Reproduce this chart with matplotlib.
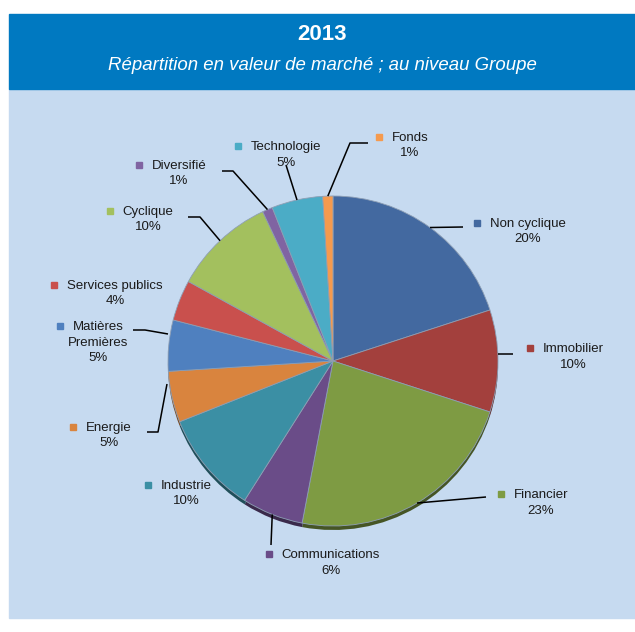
import matplotlib
matplotlib.use("Agg")
import matplotlib.pyplot as plt
import matplotlib.colors as mcolors
from matplotlib.patches import Rectangle
import numpy as np

plt.rcParams["font.family"] = ["Liberation Sans", "DejaVu Sans"]

# ---------------------------------------------------------------------------
# Data
# ---------------------------------------------------------------------------
title = "2013"
subtitle = "Répartition en valeur de marché ; au niveau Groupe"

sectors = ["Non cyclique", "Immobilier", "Financier", "Communications",
           "Industrie", "Energie", "Matières\nPremières", "Services publics",
           "Cyclique", "Diversifié", "Technologie", "Fonds"]
shares = [20, 10, 23, 6, 10, 5, 5, 4, 10, 1, 5, 1]

colors = ["#4369A0", "#A3403D", "#7E9B43", "#6A4C88", "#3B8FA4", "#D9843E",
          "#4F80BF", "#C9504D", "#A3C05E", "#8064A2", "#4BACC6", "#F59A4E"]

# ---------------------------------------------------------------------------
# Layout (image pixel coords, y from top)
# ---------------------------------------------------------------------------
W, H = 635, 632
CX, CY, R = 333, 361, 165

# centre of first label line
label_pos = [(528, 224), (573, 349), (541, 495), (331, 555), (186, 486),
             (109, 428), (98, 327), (115, 286), (148, 212), (179, 166),
             (286, 147), (410, 138)]
# leader start on the rim when it is not the slice mid-angle
anchors = [None, (498, 354), None, None, None, (167, 384), (168, 334),
           None, None, None, None, None]
# leader elbows after the anchor (None = no leader)
leaders = [[(463, 227)], [(513, 354)], [(486, 497)], [(271, 545)], None,
           [(158, 432), (147, 432)], [(145, 330), (133, 330)], None,
           [(200, 217), (188, 217)], [(233, 171), (222, 171)],
           [(286, 165)], [(350, 143), (368, 143)]]


def up(y):
    return H - y


fig = plt.figure(figsize=(W / 100, H / 100), dpi=100)
fig.patch.set_facecolor("white")
ax = fig.add_axes([0, 0, 1, 1])

# shadow rim (3-D look)
dark = [tuple(c * 0.55 for c in mcolors.to_rgb(col)) for col in colors]
ax.pie(shares, colors=dark, startangle=90, counterclock=False,
       center=(CX, up(CY) - 4), radius=R, frame=True,
       wedgeprops=dict(linewidth=0))
wedges, _ = ax.pie(shares, colors=colors, startangle=90, counterclock=False,
                   center=(CX, up(CY)), radius=R, frame=True,
                   wedgeprops=dict(edgecolor="#8E9FB5", linewidth=0.6))
ax.set_xlim(0, W)
ax.set_ylim(0, H)
ax.set_aspect("auto")
ax.axis("off")

# panels
ax.add_patch(Rectangle((9, up(618)), W - 9, 618 - 89, color="#C6DAF0", zorder=-2))
ax.add_patch(Rectangle((9, up(89)), W - 9, 89 - 14, color="#0079C1", zorder=-2))
ax.text(322, up(34), title, color="white", fontsize=16, fontweight="bold",
        ha="center", va="center")
ax.text(322, up(65), subtitle, color="white", fontsize=13.4, style="italic",
        ha="center", va="center")

fig.canvas.draw()
renderer = fig.canvas.get_renderer()

total = float(sum(shares))
cum = 0.0
for i, (name, val) in enumerate(zip(sectors, shares)):
    mid = cum + val / 2.0
    cum += val
    if anchors[i]:
        ax_x, ax_y = anchors[i][0], up(anchors[i][1])
    else:
        ang = np.deg2rad(90 - 360 * mid / total)
        ax_x = CX + R * np.cos(ang)
        ax_y = up(CY) + R * np.sin(ang)

    if leaders[i]:
        xs = [ax_x] + [p[0] for p in leaders[i]]
        ys = [ax_y] + [up(p[1]) for p in leaders[i]]
        ax.plot(xs, ys, color="black", linewidth=1.1, solid_capstyle="butt",
                zorder=3)

    lx, ly = label_pos[i]
    lines = name.split("\n") + [f"{val:.0f}%"]
    first = None
    for k, line in enumerate(lines):
        t = ax.text(lx, up(ly + 15.5 * k), line, fontsize=9.5, color="#1A1A1A",
                    ha="center", va="center", zorder=4)
        if k == 0:
            first = t
    bb = first.get_window_extent(renderer)
    ax.plot([bb.x0 - 13], [up(ly) + 1], marker="s", markersize=5,
            color=colors[i], linestyle="none", zorder=4)

fig.savefig("out.png", dpi=100, facecolor=fig.get_facecolor())
